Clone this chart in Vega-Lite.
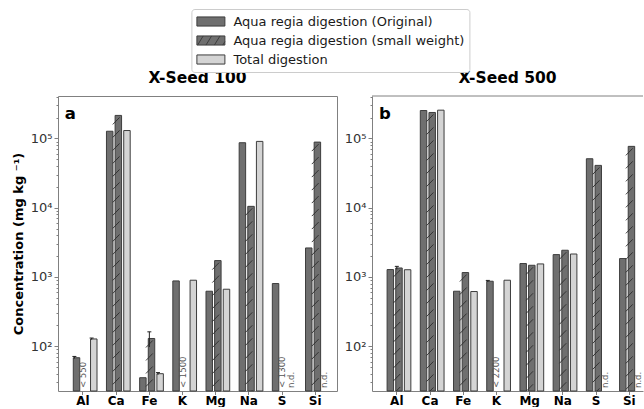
{
  "$schema": "https://vega.github.io/schema/vega-lite/v6.json",
  "padding": {"left": 11, "top": 8, "right": 0, "bottom": 0},
  "spacing": 6,
  "config": {
    "font": "DejaVu Sans",
    "view": {"stroke": "#808080", "strokeWidth": 1},
    "axis": {"grid": false, "domain": false, "tickColor": "#808080"},
    "legend": {
      "orient": "none", "legendX": 133.4, "legendY": -87, "title": null,
      "labelFont": "DejaVu Sans", "labelFontSize": 13, "labelColor": "#1a1a1a", "labelLimit": 0,
      "symbolSize": 196, "symbolOpacity": 1,
      "strokeColor": "#cccccc", "fillColor": "white", "padding": 5, "cornerRadius": 3,
      "rowPadding": 4, "labelOffset": 22
    }
  },
  "datasets": {
    "p100": [
      {"el": "Al", "series": "Aqua regia digestion (Original)", "v": 68},
      {"el": "Al", "series": "Total digestion", "v": 127},
      {"el": "Ca", "series": "Aqua regia digestion (Original)", "v": 127000},
      {"el": "Ca", "series": "Aqua regia digestion (small weight)", "v": 215000},
      {"el": "Ca", "series": "Total digestion", "v": 130000},
      {"el": "Fe", "series": "Aqua regia digestion (Original)", "v": 35},
      {"el": "Fe", "series": "Aqua regia digestion (small weight)", "v": 129},
      {"el": "Fe", "series": "Total digestion", "v": 40},
      {"el": "K", "series": "Aqua regia digestion (Original)", "v": 875},
      {"el": "K", "series": "Total digestion", "v": 896},
      {"el": "Mg", "series": "Aqua regia digestion (Original)", "v": 621},
      {"el": "Mg", "series": "Aqua regia digestion (small weight)", "v": 1720},
      {"el": "Mg", "series": "Total digestion", "v": 664},
      {"el": "Na", "series": "Aqua regia digestion (Original)", "v": 86700},
      {"el": "Na", "series": "Aqua regia digestion (small weight)", "v": 10450},
      {"el": "Na", "series": "Total digestion", "v": 90600},
      {"el": "S", "series": "Aqua regia digestion (Original)", "v": 802},
      {"el": "Si", "series": "Aqua regia digestion (Original)", "v": 2620},
      {"el": "Si", "series": "Aqua regia digestion (small weight)", "v": 88500}
    ],
    "p500": [
      {"el": "Al", "series": "Aqua regia digestion (Original)", "v": 1276},
      {"el": "Al", "series": "Aqua regia digestion (small weight)", "v": 1346},
      {"el": "Al", "series": "Total digestion", "v": 1270},
      {"el": "Ca", "series": "Aqua regia digestion (Original)", "v": 253000},
      {"el": "Ca", "series": "Aqua regia digestion (small weight)", "v": 237000},
      {"el": "Ca", "series": "Total digestion", "v": 256000},
      {"el": "Fe", "series": "Aqua regia digestion (Original)", "v": 621},
      {"el": "Fe", "series": "Aqua regia digestion (small weight)", "v": 1156},
      {"el": "Fe", "series": "Total digestion", "v": 615},
      {"el": "K", "series": "Aqua regia digestion (Original)", "v": 866},
      {"el": "K", "series": "Total digestion", "v": 896},
      {"el": "Mg", "series": "Aqua regia digestion (Original)", "v": 1560},
      {"el": "Mg", "series": "Aqua regia digestion (small weight)", "v": 1472},
      {"el": "Mg", "series": "Total digestion", "v": 1540},
      {"el": "Na", "series": "Aqua regia digestion (Original)", "v": 2099},
      {"el": "Na", "series": "Aqua regia digestion (small weight)", "v": 2427},
      {"el": "Na", "series": "Total digestion", "v": 2142},
      {"el": "S", "series": "Aqua regia digestion (Original)", "v": 50900},
      {"el": "S", "series": "Aqua regia digestion (small weight)", "v": 40800},
      {"el": "Si", "series": "Aqua regia digestion (Original)", "v": 1841},
      {"el": "Si", "series": "Aqua regia digestion (small weight)", "v": 76800}
    ],
    "e100": [
      {"el": "Al", "series": "Aqua regia digestion (Original)", "lo": 66, "hi": 71},
      {"el": "Al", "series": "Total digestion", "lo": 124, "hi": 131},
      {"el": "Fe", "series": "Aqua regia digestion (small weight)", "lo": 97, "hi": 161},
      {"el": "Fe", "series": "Total digestion", "lo": 38.5, "hi": 41.5}
    ],
    "e500": [
      {"el": "Al", "series": "Aqua regia digestion (small weight)", "lo": 1280, "hi": 1420},
      {"el": "K", "series": "Aqua regia digestion (Original)", "lo": 845, "hi": 890}
    ],
    "n100": [
      {"el": "Al", "series": "Aqua regia digestion (small weight)", "note": "< 550"},
      {"el": "K", "series": "Aqua regia digestion (small weight)", "note": "< 1500"},
      {"el": "S", "series": "Aqua regia digestion (small weight)", "note": "< 1300"},
      {"el": "S", "series": "Total digestion", "note": "n.d."},
      {"el": "Si", "series": "Total digestion", "note": "n.d."}
    ],
    "n500": [
      {"el": "K", "series": "Aqua regia digestion (small weight)", "note": "< 2200"},
      {"el": "S", "series": "Total digestion", "note": "n.d."},
      {"el": "Si", "series": "Total digestion", "note": "n.d."}
    ]
  },
  "resolve": {
    "scale": {"x": "independent", "y": "independent", "xOffset": "independent", "fill": "shared", "shape": "shared"},
    "legend": {"fill": "shared", "shape": "shared"}
  },
  "hconcat": [
    {
      "width": 279,
      "height": 295,
      "title": {"text": "X-Seed 100", "fontSize": 15.5, "fontWeight": "bold", "color": "black", "anchor": "middle", "frame": "group", "offset": 4},
      "layer": [
        {
          "data": {"name": "p100"},
          "mark": {"type": "bar", "width": {"band": 0.75}, "stroke": "#3d3d3d", "strokeWidth": 1},
          "encoding": {
            "x": {"field": "el", "type": "nominal", "sort": null,
              "scale": {"domain": ["Al", "Ca", "Fe", "K", "Mg", "Na", "S", "Si"], "paddingInner": 0.22, "paddingOuter": 0.315, "align": 0.577},
              "axis": {"title": null, "labelAngle": 0, "labelFontWeight": "bold", "labelFontSize": 12, "labelColor": "black", "tickSize": 3.5, "labelPadding": 1}},
            "xOffset": {"field": "series", "type": "nominal",
              "scale": {"domain": ["Aqua regia digestion (Original)", "Aqua regia digestion (small weight)", "Total digestion"], "paddingInner": 0, "paddingOuter": 0}},
            "y": {"field": "v", "type": "quantitative",
              "scale": {"type": "log", "domain": [22.5, 410000], "nice": false},
              "axis": {
                "values": [30, 40, 50, 60, 70, 80, 90, 100, 200, 300, 400, 500, 600, 700, 800, 900, 1000, 2000, 3000, 4000, 5000, 6000, 7000, 8000, 9000, 10000, 20000, 30000, 40000, 50000, 60000, 70000, 80000, 90000, 100000, 200000, 300000, 400000],
                "labelExpr": "datum.value == 100 ? '10²' : datum.value == 1000 ? '10³' : datum.value == 10000 ? '10⁴' : datum.value == 100000 ? '10⁵' : ''",
                "tickSize": {"condition": {"test": "datum.value == 100 || datum.value == 1000 || datum.value == 10000 || datum.value == 100000", "value": 4}, "value": 2},
                "labelOverlap": false, "labelFontSize": 13, "labelColor": "#333333", "labelPadding": 2,
                "title": "Concentration (mg kg ⁻¹)", "titleFontSize": 13, "titleFontWeight": "bold", "titleColor": "black", "titlePadding": 5
              }},
            "y2": {"datum": 22.5},
            "fill": {"field": "series", "type": "nominal",
              "scale": {"domain": ["Aqua regia digestion (Original)", "Aqua regia digestion (small weight)", "Total digestion"], "range": ["#6f6f6f", "#6f6f6f", "#d4d4d4"]},
              "legend": {"encode": {"symbols": {"update": {"stroke": {"value": "#3d3d3d"}, "strokeWidth": {"value": 1}}}}}}
          }
        },
        {
          "data": {"name": "p100"},
          "transform": [{"filter": "datum.series === 'Aqua regia digestion (small weight)'"}],
          "mark": {"type": "point", "size": 4, "filled": false, "opacity": 1, "clip": true, "stroke": "#2b2b2b", "strokeWidth": 0.9,
            "shape": "M-3.4,9L3.4,2M-3.4,22L3.4,15M-3.4,35L3.4,28M-3.4,48L3.4,41M-3.4,61L3.4,54M-3.4,74L3.4,67M-3.4,87L3.4,80M-3.4,100L3.4,93M-3.4,113L3.4,106M-3.4,126L3.4,119M-3.4,139L3.4,132M-3.4,152L3.4,145M-3.4,165L3.4,158M-3.4,178L3.4,171M-3.4,191L3.4,184M-3.4,204L3.4,197M-3.4,217L3.4,210M-3.4,230L3.4,223M-3.4,243L3.4,236M-3.4,256L3.4,249M-3.4,269L3.4,262M-3.4,282L3.4,275M-3.4,295L3.4,288M-3.4,308L3.4,301"},
          "encoding": {
            "x": {"field": "el", "type": "nominal", "sort": null},
            "xOffset": {"field": "series", "type": "nominal"},
            "y": {"field": "v", "type": "quantitative"}
          }
        },
        {
          "data": {"name": "e100"},
          "mark": {"type": "rule", "color": "#222222", "strokeWidth": 1},
          "encoding": {
            "x": {"field": "el", "type": "nominal", "sort": null},
            "xOffset": {"field": "series", "type": "nominal"},
            "y": {"field": "lo", "type": "quantitative"},
            "y2": {"field": "hi"}
          }
        },
        {
          "data": {"name": "e100"},
          "mark": {"type": "tick", "color": "#222222", "thickness": 1, "size": 4, "orient": "horizontal", "opacity": 1},
          "encoding": {
            "x": {"field": "el", "type": "nominal", "sort": null},
            "xOffset": {"field": "series", "type": "nominal"},
            "y": {"field": "hi", "type": "quantitative"}
          }
        },
        {
          "data": {"name": "n100"},
          "mark": {"type": "text", "angle": 270, "align": "left", "baseline": "middle", "dx": 3, "fontSize": 8.5, "color": "#555555"},
          "encoding": {
            "x": {"field": "el", "type": "nominal", "sort": null},
            "xOffset": {"field": "series", "type": "nominal"},
            "y": {"datum": 22.5},
            "text": {"field": "note"}
          }
        },
        {
          "data": {"values": [{"label": "a"}]},
          "mark": {"type": "text", "align": "left", "baseline": "alphabetic", "dx": -18.3, "fontSize": 16.5, "fontWeight": "bold", "color": "black"},
          "encoding": {
            "x": {"datum": "Al"},
            "y": {"datum": 192000},
            "text": {"field": "label"}
          }
        },
        {
          "data": {"name": "p100"},
          "transform": [{"filter": "false"}],
          "mark": {"type": "point", "filled": true, "opacity": 1},
          "encoding": {
            "fill": {"field": "series", "type": "nominal",
              "legend": {"encode": {"symbols": {"update": {"stroke": {"value": "#3d3d3d"}, "strokeWidth": {"value": 1}}}}}},
            "shape": {"field": "series", "type": "nominal",
              "scale": {"domain": ["Aqua regia digestion (Original)", "Aqua regia digestion (small weight)", "Total digestion"],
                "range": ["M-1,-0.65H3V0.65H-1Z", "M-1,-0.65H3V0.65H-1Z M-0.9,0.65L-0.1,-0.65 M0.3,0.65L1.1,-0.65 M1.5,0.65L2.3,-0.65 M2.7,0.65L3,0.16", "M-1,-0.65H3V0.65H-1Z"]},
              "legend": {"encode": {"symbols": {"update": {"stroke": {"value": "#3d3d3d"}, "strokeWidth": {"value": 1}}}}}}
          }
        }
      ]
    },
    {
      "width": 271,
      "height": 295,
      "view": {"stroke": null},
      "title": {"text": "X-Seed 500", "fontSize": 15.5, "fontWeight": "bold", "color": "black", "anchor": "middle", "frame": "group", "offset": 4},
      "layer": [
        {
          "data": {"name": "p500"},
          "mark": {"type": "bar", "width": {"band": 0.75}, "stroke": "#3d3d3d", "strokeWidth": 1},
          "encoding": {
            "x": {"field": "el", "type": "nominal", "sort": null,
              "scale": {"domain": ["Al", "Ca", "Fe", "K", "Mg", "Na", "S", "Si"], "paddingInner": 0.22, "paddingOuter": 0.19, "align": 0.94},
              "axis": {"title": null, "labelAngle": 0, "labelFontWeight": "bold", "labelFontSize": 12, "labelColor": "black", "tickSize": 3.5, "labelPadding": 1, "domain": true, "domainColor": "#808080"}},
            "xOffset": {"field": "series", "type": "nominal",
              "scale": {"domain": ["Aqua regia digestion (Original)", "Aqua regia digestion (small weight)", "Total digestion"], "paddingInner": 0, "paddingOuter": 0}},
            "y": {"field": "v", "type": "quantitative",
              "scale": {"type": "log", "domain": [22.5, 410000], "nice": false},
              "axis": {
                "values": [30, 40, 50, 60, 70, 80, 90, 100, 200, 300, 400, 500, 600, 700, 800, 900, 1000, 2000, 3000, 4000, 5000, 6000, 7000, 8000, 9000, 10000, 20000, 30000, 40000, 50000, 60000, 70000, 80000, 90000, 100000, 200000, 300000, 400000],
                "labelExpr": "datum.value == 100 ? '10²' : datum.value == 1000 ? '10³' : datum.value == 10000 ? '10⁴' : datum.value == 100000 ? '10⁵' : ''",
                "tickSize": {"condition": {"test": "datum.value == 100 || datum.value == 1000 || datum.value == 10000 || datum.value == 100000", "value": 4}, "value": 2},
                "labelOverlap": false, "labelFontSize": 13, "labelColor": "#333333", "labelPadding": 2,
                "title": null, "domain": true, "domainColor": "#808080"
              }},
            "y2": {"datum": 22.5},
            "fill": {"field": "series", "type": "nominal",
              "legend": {"encode": {"symbols": {"update": {"stroke": {"value": "#3d3d3d"}, "strokeWidth": {"value": 1}}}}}}
          }
        },
        {
          "data": {"name": "p500"},
          "transform": [{"filter": "datum.series === 'Aqua regia digestion (small weight)'"}],
          "mark": {"type": "point", "size": 4, "filled": false, "opacity": 1, "clip": true, "stroke": "#2b2b2b", "strokeWidth": 0.9,
            "shape": "M-3.4,9L3.4,2M-3.4,22L3.4,15M-3.4,35L3.4,28M-3.4,48L3.4,41M-3.4,61L3.4,54M-3.4,74L3.4,67M-3.4,87L3.4,80M-3.4,100L3.4,93M-3.4,113L3.4,106M-3.4,126L3.4,119M-3.4,139L3.4,132M-3.4,152L3.4,145M-3.4,165L3.4,158M-3.4,178L3.4,171M-3.4,191L3.4,184M-3.4,204L3.4,197M-3.4,217L3.4,210M-3.4,230L3.4,223M-3.4,243L3.4,236M-3.4,256L3.4,249M-3.4,269L3.4,262M-3.4,282L3.4,275M-3.4,295L3.4,288M-3.4,308L3.4,301"},
          "encoding": {
            "x": {"field": "el", "type": "nominal", "sort": null},
            "xOffset": {"field": "series", "type": "nominal"},
            "y": {"field": "v", "type": "quantitative"}
          }
        },
        {
          "data": {"name": "e500"},
          "mark": {"type": "rule", "color": "#222222", "strokeWidth": 1},
          "encoding": {
            "x": {"field": "el", "type": "nominal", "sort": null},
            "xOffset": {"field": "series", "type": "nominal"},
            "y": {"field": "lo", "type": "quantitative"},
            "y2": {"field": "hi"}
          }
        },
        {
          "data": {"name": "e500"},
          "mark": {"type": "tick", "color": "#222222", "thickness": 1, "size": 4, "orient": "horizontal", "opacity": 1},
          "encoding": {
            "x": {"field": "el", "type": "nominal", "sort": null},
            "xOffset": {"field": "series", "type": "nominal"},
            "y": {"field": "hi", "type": "quantitative"}
          }
        },
        {
          "data": {"name": "n500"},
          "mark": {"type": "text", "angle": 270, "align": "left", "baseline": "middle", "dx": 3, "fontSize": 8.5, "color": "#555555"},
          "encoding": {
            "x": {"field": "el", "type": "nominal", "sort": null},
            "xOffset": {"field": "series", "type": "nominal"},
            "y": {"datum": 22.5},
            "text": {"field": "note"}
          }
        },
        {
          "data": {"values": [{"label": "b"}]},
          "mark": {"type": "text", "align": "left", "baseline": "alphabetic", "dx": -17.9, "fontSize": 16.5, "fontWeight": "bold", "color": "black"},
          "encoding": {
            "x": {"datum": "Al"},
            "y": {"datum": 192000},
            "text": {"field": "label"}
          }
        },
        {
          "data": {"values": [{"edge": "top"}]},
          "mark": {"type": "rule", "color": "#808080", "strokeWidth": 1},
          "encoding": {
            "y": {"datum": 410000}
          }
        }
      ]
    }
  ]
}
